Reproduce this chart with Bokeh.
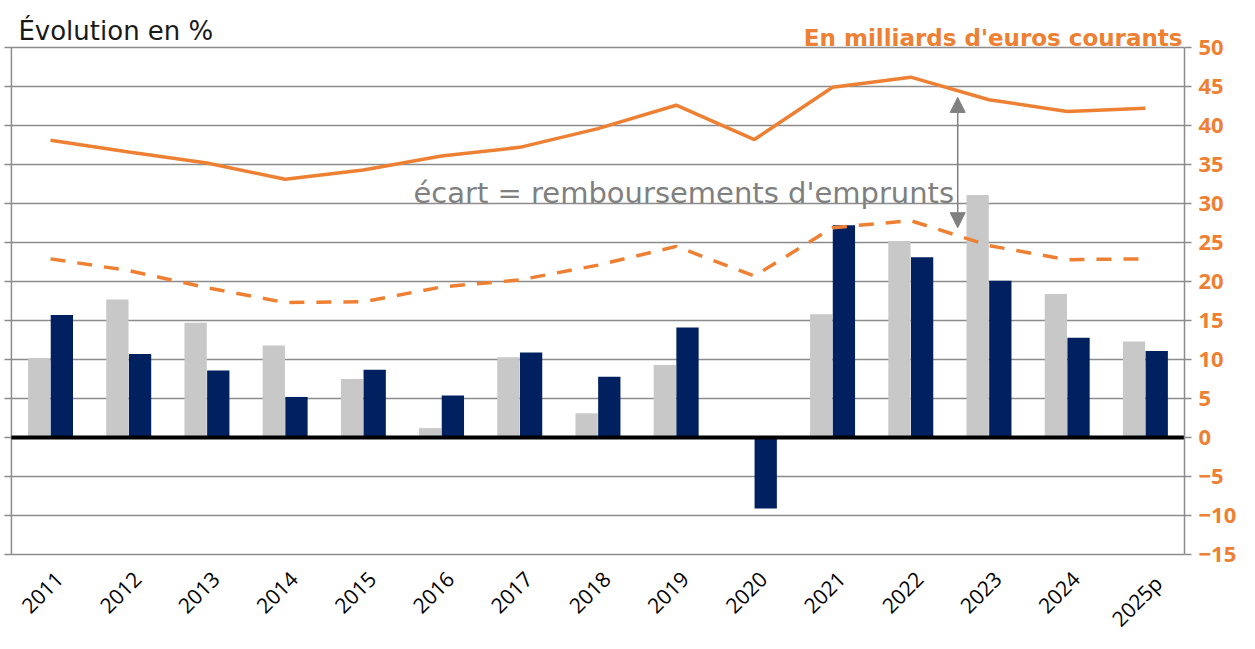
import math
from bokeh.plotting import figure
from bokeh.models import (Range1d, LinearAxis, FixedTicker, Label, Arrow,
                          NormalHead, ColumnDataSource)
from bokeh.core.properties import value
from bokeh.transform import dodge
from bokeh.embed import file_html
from bokeh.resources import INLINE

# ---------------- data ----------------
years = ["2011", "2012", "2013", "2014", "2015", "2016", "2017", "2018",
         "2019", "2020", "2021", "2022", "2023", "2024", "2025p"]
# bars (évolution en %)
gray_bars = [10.2, 17.7, 14.7, 11.8, 7.5, 1.2, 10.3, 3.1, 9.3, 0.0,
             15.8, 25.2, 31.1, 18.4, 12.3]
navy_bars = [15.7, 10.7, 8.6, 5.2, 8.7, 5.4, 10.9, 7.8, 14.1, -9.1,
             27.2, 23.1, 20.1, 12.8, 11.1]
# lines (milliards d'euros courants)
solid_line = [38.1, 36.6, 35.2, 33.1, 34.3, 36.1, 37.2, 39.6, 42.6, 38.2,
              44.9, 46.2, 43.3, 41.8, 42.2]
dashed_line = [22.9, 21.4, 19.2, 17.3, 17.4, 19.3, 20.2, 22.1, 24.5, 20.7,
               26.9, 27.8, 24.6, 22.8, 22.9]
y_ticks = [-15, -10, -5, 0, 5, 10, 15, 20, 25, 30, 35, 40, 45, 50]

ORANGE = "#EE8033"
NAVY = "#002060"
LGRAY = "#C8C8C8"
GRID = "#8C8C8C"
FONT = "DejaVu Sans"

n = len(years)
idx = list(range(n))
Y_MIN, Y_MAX = -15, 50
W, H = 1239, 633
RIGHT_BORDER = 47
PX_Y = 7.8                                   # px per unit
x_lo = -0.5 - 11 / ((W - RIGHT_BORDER) / (n + 0.14))
PX_X = (W - RIGHT_BORDER) / (n - 0.5 - x_lo)  # px per category
y_hi = Y_MAX + 47 / PX_Y                     # room for the headings
y_lo = Y_MIN - (H - 554) / PX_Y              # room for category labels

p = figure(width=W, height=H, output_backend="svg", toolbar_location=None,
           x_range=Range1d(x_lo, n - 0.5), y_range=Range1d(y_lo, y_hi),
           min_border_left=0, min_border_top=0, min_border_right=RIGHT_BORDER,
           min_border_bottom=0, y_axis_location=None, x_axis_location=None)
p.outline_line_color = None
p.background_fill_color = "white"
p.xgrid.visible = False
p.ygrid.visible = False

# right axis
right_axis = LinearAxis(ticker=FixedTicker(ticks=y_ticks), bounds=(Y_MIN, Y_MAX),
                        major_label_text_font="Open Sans",
                        major_label_text_font_size="22px",
                        major_label_text_font_style="bold",
                        major_label_text_color=ORANGE,
                        major_label_standoff=7,
                        major_tick_out=7, major_tick_in=0,
                        major_tick_line_color=GRID, axis_line_color=GRID,
                        axis_line_width=1.5, major_tick_line_width=1.5,
                        minor_tick_line_color=None)
p.add_layout(right_axis, "right")

# horizontal grid lines and left axis (line + outer ticks)
p.segment(x0=[-0.5] * len(y_ticks), x1=[n - 0.5] * len(y_ticks),
          y0=y_ticks, y1=y_ticks, line_color=GRID, line_width=1.5)
p.segment(x0=[-0.5 - 7 / PX_X] * len(y_ticks), x1=[-0.5] * len(y_ticks),
          y0=y_ticks, y1=y_ticks, line_color=GRID, line_width=1.5)
p.segment(x0=[-0.5], x1=[-0.5], y0=[Y_MIN], y1=[Y_MAX], line_color=GRID,
          line_width=1.5)

# bars
src = ColumnDataSource(dict(x=idx, gray=gray_bars, navy=navy_bars,
                            solid=solid_line, dashed=dashed_line,
                            label=years,
                            lx=[i + 3 / PX_X for i in idx],
                            ly=[Y_MIN - 15 / PX_Y] * n))
p.vbar(x=dodge("x", -0.145), top="gray", bottom=0, width=0.285, source=src,
       fill_color=LGRAY, line_color=None)
p.vbar(x=dodge("x", 0.145), top="navy", bottom=0, width=0.285, source=src,
       fill_color=NAVY, line_color=None)

# zero line (category axis)
p.segment(x0=[-0.5], x1=[n - 0.5], y0=[0], y1=[0], line_color="black",
          line_width=4)

# lines
p.line(x="x", y="solid", source=src, line_color=ORANGE, line_width=3.5)
p.line(x="x", y="dashed", source=src, line_color=ORANGE, line_width=3.5,
       line_dash="15 12")

# category labels (rotated 45°)
p.text(x="lx", y="ly", text="label", source=src, angle=math.pi / 4,
       text_align="right", text_baseline="top", text_font=value("Open Sans"),
       text_font_size="21px", text_color="black")

# annotation arrow
p.add_layout(Arrow(x_start=11.6, y_start=43.6, x_end=11.6, y_end=26.9,
                   line_color="#808080", line_width=1.5,
                   start=NormalHead(size=15, fill_color="#808080", line_color="#808080"),
                   end=NormalHead(size=15, fill_color="#808080", line_color="#808080")))
p.add_layout(Label(x=(960 / PX_X) + x_lo, y=31.3,
                   text="écart = remboursements d'emprunts",
                   text_align="right", text_baseline="alphabetic",
                   text_font=FONT, text_font_size="29px", text_color="#808080"))

# headings
p.add_layout(Label(x=(18 / PX_X) + x_lo, y=y_hi - 30 / PX_Y, text="Évolution en %",
                   text_align="left", text_baseline="alphabetic",
                   text_font=FONT, text_font_size="26px", text_color="#1a1a1a"))
p.add_layout(Label(x=(1190 / PX_X) + x_lo, y=y_hi - 37 / PX_Y,
                   text="En milliards d'euros courants",
                   text_align="right", text_baseline="alphabetic",
                   text_font=FONT, text_font_size="23px",
                   text_font_style="bold", text_color=ORANGE))

open("out.html", "w").write(file_html(p, INLINE))
